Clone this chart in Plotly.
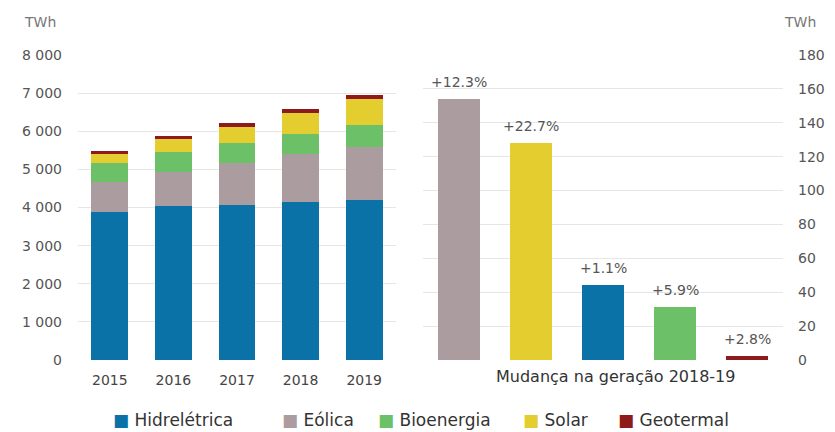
import plotly.graph_objects as go

# ---------------- data ----------------
years = ["2015", "2016", "2017", "2018", "2019"]
hidreletrica = [3880, 4040, 4070, 4150, 4190]
eolica = [790, 890, 1100, 1260, 1400]
bioenergia = [500, 530, 530, 520, 580]
solar = [240, 340, 420, 550, 680]
geotermal = [80, 80, 100, 110, 110]

change_cats = ["Eólica", "Solar", "Hidrelétrica", "Bioenergia", "Geotermal"]
change_vals = [154, 128, 44, 31, 2.5]
change_labels = ["+12.3%", "+22.7%", "+1.1%", "+5.9%", "+2.8%"]

left_ticks = [0, 1000, 2000, 3000, 4000, 5000, 6000, 7000, 8000]
left_ticktext = ["0", "1 000", "2 000", "3 000", "4 000", "5 000", "6 000", "7 000", "8 000"]
right_ticks = [0, 20, 40, 60, 80, 100, 120, 140, 160, 180]

series_names = ["Hidrelétrica", "Eólica", "Bioenergia", "Solar", "Geotermal"]
colors = {"Hidrelétrica": "#0b72a8", "Eólica": "#aa9c9f", "Bioenergia": "#6cc067",
          "Solar": "#e4cd2f", "Geotermal": "#8e1a1c"}

W, H = 835, 432
FONT = "DejaVu Sans"


def px_x(p):
    return p / W


def px_y(p):
    return 1 - p / H


fig = go.Figure()

stack = [hidreletrica, eolica, bioenergia, solar, geotermal]
for name, vals in zip(series_names, stack):
    fig.add_trace(go.Bar(x=years, y=vals, name=name, marker_color=colors[name],
                         marker_line_width=0, xaxis="x", yaxis="y", showlegend=False))

fig.add_trace(go.Bar(x=change_cats, y=change_vals,
                     marker_color=[colors[c] for c in change_cats], marker_line_width=0,
                     xaxis="x2", yaxis="y2", showlegend=False))

# percentage labels above right bars
for c, v, t in zip(change_cats, change_vals, change_labels):
    fig.add_annotation(x=c, y=v, text=t, xref="x2", yref="y2", showarrow=False,
                       yanchor="bottom", yshift=7,
                       font=dict(family=FONT, size=14, color="#555555"))

ydom = [px_y(360), px_y(55)]
fig.update_layout(
    width=W, height=H,
    margin=dict(l=0, r=0, t=0, b=0, autoexpand=False),
    paper_bgcolor="white", plot_bgcolor="white",
    barmode="stack", bargap=0.42,
    font=dict(family=FONT, color="#555555"),
    xaxis=dict(domain=[px_x(78), px_x(396)], range=[-0.5, 4.5], showgrid=False,
               showline=False, ticks="", tickfont=dict(size=14, color="#444444"),
               ticklabelstandoff=10, automargin=False),
    yaxis=dict(domain=ydom, range=[0, 8000], tickvals=left_ticks, ticktext=left_ticktext,
               showgrid=True, gridcolor="#e6e6e6", gridwidth=1, zeroline=False,
               showline=False, ticks="", tickfont=dict(size=14, color="#555555"),
               ticklabelstandoff=15, automargin=False),
    xaxis2=dict(domain=[px_x(423), px_x(783)], range=[-0.5, 4.5], anchor="y2",
                showgrid=False, showline=False, ticks="", showticklabels=False,
                automargin=False),
    yaxis2=dict(domain=ydom, range=[0, 180], anchor="x2", side="right", tickvals=right_ticks,
                showgrid=True, gridcolor="#e6e6e6", gridwidth=1, zeroline=False,
                showline=False, ticks="", tickfont=dict(size=14, color="#555555"),
                ticklabelstandoff=14, automargin=False),
)

# unit labels
fig.add_annotation(x=px_x(22), y=px_y(22), xref="paper", yref="paper", text="TWh",
                   showarrow=False, xanchor="left", yanchor="middle",
                   font=dict(family=FONT, size=14, color="#777777"))
fig.add_annotation(x=px_x(782), y=px_y(22), xref="paper", yref="paper", text="TWh",
                   showarrow=False, xanchor="left", yanchor="middle",
                   font=dict(family=FONT, size=14, color="#777777"))

# right chart title
fig.add_annotation(x=px_x(615), y=px_y(376), xref="paper", yref="paper",
                   text="Mudança na geração 2018-19", showarrow=False,
                   xanchor="center", yanchor="middle",
                   font=dict(family=FONT, size=16, color="#333333"))

# legend built as annotations
legend_sq_x = [113, 282, 378, 523, 618]
for name, sx in zip(series_names, legend_sq_x):
    fig.add_annotation(x=px_x(sx - 2), y=px_y(420), xref="paper", yref="paper",
                       text=f'<span style="color:{colors[name]}">■</span> {name}',
                       showarrow=False, xanchor="left", yanchor="middle",
                       font=dict(family=FONT, size=17, color="#333333"))

fig.write_html("out.html")
